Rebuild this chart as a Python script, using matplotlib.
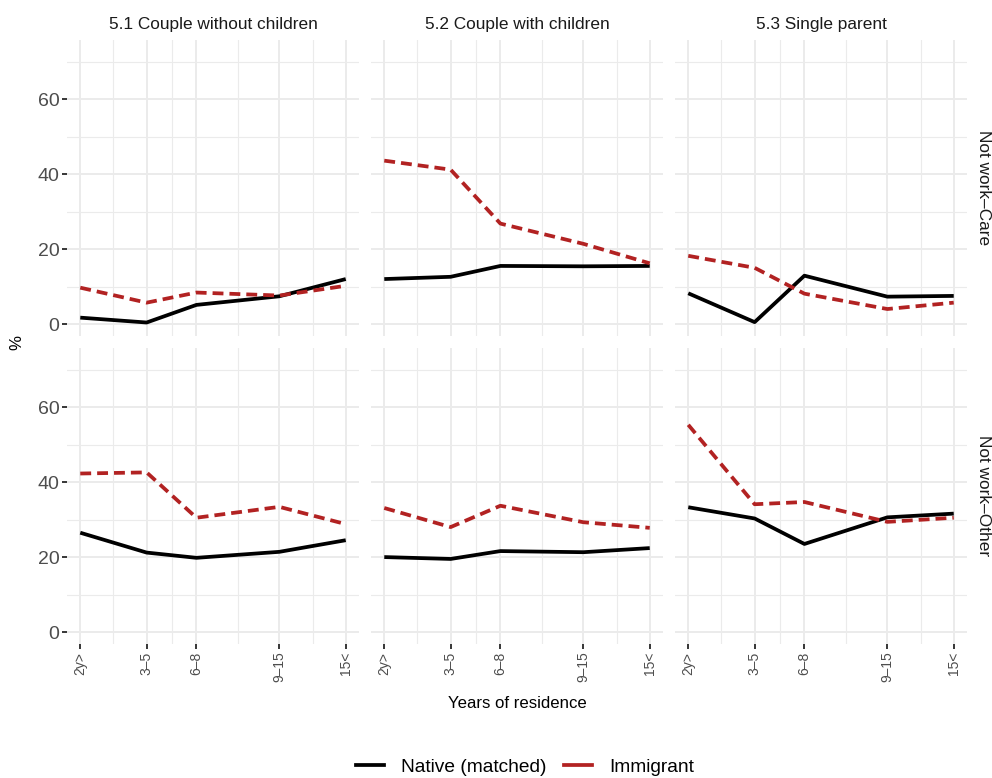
import matplotlib.pyplot as plt
import numpy as np

plt.rcParams['font.family'] = ['Liberation Sans', 'DejaVu Sans']

# x categories and their positions on the residence axis
years = ['2y>', '3\u20135', '6\u20138', '9\u201315', '15<']
year_pos = [0, 4, 7, 12, 16]

households = ['5.1 Couple without children', '5.2 Couple with children', '5.3 Single parent']
outcomes = ['Not work\u2013Care', 'Not work\u2013Other']

# % values, one list per panel
native_care = [
    [1.7, 0.4, 5.1, 7.4, 12.0],
    [12.0, 12.6, 15.5, 15.4, 15.5],
    [8.2, 0.5, 12.9, 7.3, 7.5],
]
immigrant_care = [
    [9.7, 5.7, 8.4, 7.6, 10.2],
    [43.6, 41.2, 26.8, 21.4, 16.2],
    [18.2, 15.0, 8.1, 4.0, 5.7],
]
native_other = [
    [26.5, 21.2, 19.8, 21.4, 24.5],
    [20.0, 19.5, 21.6, 21.3, 22.4],
    [33.3, 30.3, 23.5, 30.6, 31.6],
]
immigrant_other = [
    [42.3, 42.6, 30.5, 33.4, 28.8],
    [33.1, 28.0, 33.7, 29.3, 27.8],
    [55.3, 34.1, 34.7, 29.4, 30.5],
]

native_col = 'black'
immig_col = '#B22222'
grid_col = '#EBEBEB'
text_col = '#4D4D4D'

W, H = 992, 778
fig = plt.figure(figsize=(W / 100, H / 100), dpi=100)

col_left = [67, 371, 675]
col_w = 292
row_top = [40, 348]
row_h = 296

data = [(native_care, immigrant_care), (native_other, immigrant_other)]
minor_x = [(year_pos[i] + year_pos[i + 1]) / 2 for i in range(len(year_pos) - 1)]

for r in range(2):
    nat, imm = data[r]
    for c in range(3):
        ax = fig.add_axes([col_left[c] / W, 1 - (row_top[r] + row_h) / H, col_w / W, row_h / H])
        ax.set_xlim(-0.8, 16.8)
        ax.set_ylim(-3.2, 75.8)
        for s in ax.spines.values():
            s.set_visible(False)
        ax.set_xticks(year_pos)
        ax.set_xticks(minor_x, minor=True)
        ax.set_yticks([0, 20, 40, 60])
        ax.set_yticks([10, 30, 50, 70], minor=True)
        ax.grid(True, which='major', color=grid_col, lw=1.4)
        ax.grid(True, which='minor', color=grid_col, lw=0.8)
        ax.set_axisbelow(True)
        ax.tick_params(which='minor', length=0)
        ax.tick_params(which='major', length=3.5, width=1.1, color='black', pad=2)

        ax.plot(year_pos, nat[c], color=native_col, lw=2.7, solid_capstyle='butt')
        ax.plot(year_pos, imm[c], color=immig_col, lw=2.7, dashes=(2.9, 1.6))

        if r == 1:
            ax.set_xticklabels(years, rotation=90, fontsize=10, color=text_col)
        else:
            ax.tick_params(axis='x', which='major', length=0, labelbottom=False)
        if c == 0:
            ax.set_yticklabels(['0', '20', '40', '60'], fontsize=14, color=text_col)
        else:
            ax.tick_params(axis='y', which='major', length=0, labelleft=False)

        if r == 0:
            ax.set_title(households[c], fontsize=12.4, color='#1A1A1A', pad=8)
        if c == 2:
            ax.text(1.03, 0.5, outcomes[r], transform=ax.transAxes, rotation=-90,
                    ha='left', va='center', fontsize=12.4, color='#1A1A1A')

fig.text(517 / W, 1 - 703 / H, 'Years of residence', ha='center', va='center', fontsize=12.1)
fig.text(17 / W, 1 - 342 / H, '%', ha='center', va='center', rotation=90, fontsize=12.1)

h1, = plt.plot([], [], color=native_col, lw=2.7)
h2, = plt.plot([], [], color=immig_col, lw=2.7)
fig.legend([h1, h2], ['Native (matched)', 'Immigrant'], loc='center', ncol=2,
           bbox_to_anchor=(525 / W, 1 - 767 / H), frameon=False, fontsize=13.8,
           handlelength=1.45, handletextpad=0.9, columnspacing=0.9)

fig.savefig('out.png', dpi=100, facecolor='white')
